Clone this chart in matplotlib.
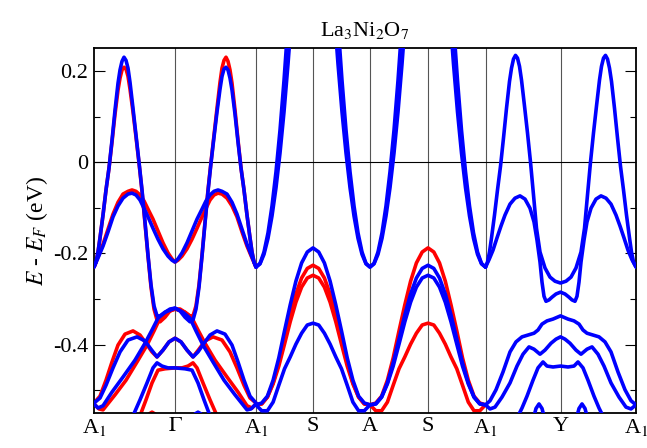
import matplotlib
matplotlib.use('Agg')
import matplotlib.pyplot as plt
from matplotlib.ticker import MultipleLocator

# high-symmetry points on the k-path
kpath_pos = [0.0, 0.81, 1.62, 2.19, 2.76, 3.34, 3.915, 4.665, 5.42]
kpath_lbl = ['A$_1$', r'$\Gamma$', 'A$_1$', 'S', 'A', 'S', 'A$_1$', 'Y', 'A$_1$']

# ---- A1 - Gamma - A1 ----
# band crossing E_F (tall dome)
dome_a_k = [0, .02, .04, .06, .09, .12, .15, .18, .21, .24, .26, .28, .30, .32, .34, .36, .39, .42, .45,
            .48, .51, .54, .57, .60, .63, .66, .71, .76, .81, .86, .91, .96, .99, 1.02, 1.05, 1.08, 1.11,
            1.14, 1.17, 1.20, 1.23, 1.26, 1.28, 1.30, 1.32, 1.34, 1.36, 1.38, 1.41, 1.44, 1.47, 1.50, 1.53,
            1.56, 1.58, 1.60, 1.62]
dome_a_blue = [-0.230, -0.219, -0.197, -0.166, -0.116, -0.061, -0.013, 0.048, 0.114, 0.173, 0.202, 0.221,
               0.230, 0.223, 0.206, 0.175, 0.118, 0.059, 0.000, -0.061, -0.131, -0.204, -0.269, -0.315,
               -0.337, -0.337, -0.329, -0.322, -0.320,
               -0.326, -0.340, -0.350, -0.346, -0.322, -0.274, -0.206, -0.134, -0.064, -0.002, 0.055, 0.110,
               0.160, 0.188, 0.204, 0.208, 0.202, 0.184, 0.158, 0.105, 0.044, -0.013, -0.061, -0.116,
               -0.166, -0.197, -0.219, -0.230]
dome_a_red = [-0.230, -0.219, -0.197, -0.166, -0.116, -0.061, -0.013, 0.044, 0.105, 0.158, 0.184, 0.202,
              0.208, 0.204, 0.188, 0.160, 0.110, 0.055, -0.002, -0.064, -0.134, -0.206, -0.274, -0.322,
              -0.346, -0.350, -0.340, -0.326, -0.322,
              -0.322, -0.329, -0.337, -0.337, -0.315, -0.269, -0.204, -0.131, -0.061, 0.000, 0.059, 0.118,
              0.175, 0.206, 0.223, 0.230, 0.221, 0.202, 0.173, 0.114, 0.048, -0.013, -0.061, -0.116,
              -0.166, -0.197, -0.219, -0.230]

# small dome below E_F
dome_b_k = [0, .04, .09, .14, .19, .24, .29, .34, .38, .42, .46, .50, .54, .59, .64, .69, .74, .78, .81,
            .84, .88, .93, .98, 1.03, 1.08, 1.12, 1.16, 1.20, 1.24, 1.28, 1.33, 1.38, 1.43, 1.48, 1.53,
            1.58, 1.62]
dome_b_blue = [-0.230, -0.210, -0.184, -0.153, -0.120, -0.096, -0.079, -0.070, -0.068, -0.072, -0.083,
               -0.101, -0.120, -0.145, -0.169, -0.190, -0.206, -0.215, -0.219,
               -0.212, -0.199, -0.177, -0.151, -0.125, -0.103, -0.085, -0.072, -0.064, -0.061, -0.064,
               -0.070, -0.088, -0.114, -0.147, -0.180, -0.208, -0.230]
dome_b_red = [-0.230, -0.208, -0.180, -0.147, -0.114, -0.088, -0.070, -0.064, -0.061, -0.064, -0.072,
              -0.085, -0.103, -0.125, -0.151, -0.177, -0.199, -0.212, -0.219,
              -0.215, -0.206, -0.190, -0.169, -0.145, -0.120, -0.101, -0.083, -0.072, -0.068, -0.070,
              -0.079, -0.096, -0.120, -0.153, -0.184, -0.210, -0.230]

# lower bands around Gamma
hump_blue_k = [0, .06, .12, .19, .26, .34, .43, .51, .57, .63, .69, .75, .81,
               .87, .93, .99, 1.04, 1.10, 1.16, 1.23, 1.31, 1.38, 1.44, 1.50, 1.56, 1.62]
hump_blue = [-0.528, -0.517, -0.489, -0.451, -0.416, -0.390, -0.383, -0.392, -0.410, -0.427, -0.412,
             -0.394, -0.386, -0.394, -0.412, -0.427, -0.416, -0.397, -0.379, -0.370, -0.377, -0.401,
             -0.438, -0.478, -0.513, -0.528]
hump_red_k = [0, .06, .12, .18, .24, .31, .39, .46, .52, .58, .63, .69, .75, .81,
              .87, .93, .99, 1.05, 1.11, 1.19, 1.28, 1.36, 1.43, 1.50, 1.56, 1.62]
hump_red = [-0.528, -0.513, -0.478, -0.438, -0.401, -0.377, -0.370, -0.379, -0.397, -0.416, -0.427,
            -0.412, -0.394, -0.386, -0.394, -0.412, -0.427, -0.410, -0.392, -0.383, -0.390, -0.416,
            -0.451, -0.489, -0.517, -0.528]

lam_blue_k = [0, .04, .09, .18, .29, .41, .51, .58, .64, .71, .81, .89, .96, 1.02, 1.09, 1.19, 1.30,
              1.41, 1.53, 1.57, 1.62]
lam_blue = [-0.530, -0.539, -0.534, -0.504, -0.471, -0.434, -0.397, -0.368, -0.342, -0.329, -0.320,
            -0.329, -0.342, -0.370, -0.401, -0.438, -0.478, -0.510, -0.543, -0.541, -0.530]
lam_red_k = [0, .05, .09, .21, .32, .43, .53, .60, .66, .73, .81, .91, .98, 1.04, 1.11, 1.21, 1.33,
             1.44, 1.53, 1.58, 1.62]
lam_red = [-0.530, -0.541, -0.543, -0.510, -0.478, -0.438, -0.401, -0.370, -0.342, -0.329, -0.322,
           -0.329, -0.342, -0.368, -0.397, -0.434, -0.471, -0.504, -0.534, -0.539, -0.530]

flat_blue_k = [.39, .46, .53, .59, .63, .68, .74, .81, .91, .98, 1.04, 1.10, 1.16]
flat_blue = [-0.556, -0.521, -0.484, -0.451, -0.440, -0.447, -0.451, -0.451, -0.453, -0.456, -0.484,
             -0.521, -0.556]
flat_red_k = [.46, .52, .58, .64, .71, .81, .88, .94, .99, 1.03, 1.09, 1.16, 1.23]
flat_red = [-0.556, -0.521, -0.484, -0.456, -0.453, -0.451, -0.451, -0.447, -0.440, -0.451, -0.484,
            -0.521, -0.556]

tip_red_k = [.52, .55, .58, .61, .64]
tip_blue_k = [.98, 1.01, 1.04, 1.07, 1.10]
tip_e = [-0.565, -0.552, -0.548, -0.552, -0.565]

# ---- steep bands (A1 - S - A - S - A1) ----
u1_in_k = [1.62, 1.66, 1.70, 1.74, 1.78, 1.82, 1.86, 1.90, 1.94]
u1_in = [-0.230, -0.222, -0.197, -0.155, -0.096, -0.021, 0.070, 0.179, 0.304]
u1_out_k = [1.62, 1.66, 1.70, 1.74, 1.78, 1.82, 1.86, 1.90, 1.94, 1.98]
u1_out = [-0.230, -0.223, -0.202, -0.167, -0.118, -0.056, 0.020, 0.110, 0.215, 0.333]
u2_in_k = [2.44, 2.48, 2.52, 2.56, 2.60, 2.64, 2.68, 2.72, 2.76, 2.80, 2.84, 2.88, 2.92, 2.96, 3.00,
           3.04, 3.08]
u2_in = [0.304, 0.179, 0.070, -0.021, -0.096, -0.155, -0.197, -0.222, -0.230, -0.222, -0.197, -0.155,
         -0.096, -0.021, 0.070, 0.179, 0.304]
u2_out_k = [2.40, 2.44, 2.48, 2.52, 2.56, 2.60, 2.64, 2.68, 2.72, 2.76, 2.80, 2.84, 2.88, 2.92, 2.96,
            3.00, 3.04, 3.08, 3.12]
u2_out = [0.333, 0.215, 0.110, 0.020, -0.056, -0.118, -0.167, -0.202, -0.223, -0.230, -0.223, -0.202,
          -0.167, -0.118, -0.056, 0.020, 0.110, 0.215, 0.333]
u3_in_k = [3.595, 3.635, 3.675, 3.715, 3.755, 3.795, 3.835, 3.875, 3.915]
u3_in = [0.304, 0.179, 0.070, -0.021, -0.096, -0.155, -0.197, -0.222, -0.230]
u3_out_k = [3.555, 3.595, 3.635, 3.675, 3.715, 3.755, 3.795, 3.835, 3.875, 3.915]
u3_out = [0.333, 0.215, 0.110, 0.020, -0.056, -0.118, -0.167, -0.202, -0.223, -0.230]

# bands with maxima at S
s_k = [1.62, 1.677, 1.734, 1.791, 1.848, 1.905, 1.962, 2.019, 2.076, 2.133, 2.19, 2.247, 2.304, 2.361,
       2.418, 2.475, 2.532, 2.589, 2.646, 2.703, 2.76, 2.818, 2.876, 2.934, 2.992, 3.05, 3.108, 3.166,
       3.224, 3.282, 3.34, 3.398, 3.455, 3.513, 3.57, 3.628, 3.685, 3.743, 3.80, 3.858, 3.915]
s_blue1 = [-0.532, -0.528, -0.513, -0.478, -0.429, -0.370, -0.313, -0.261, -0.221, -0.197, -0.188,
           -0.197, -0.221, -0.261, -0.313, -0.370, -0.429, -0.478, -0.513, -0.528, -0.532,
           -0.530, -0.515, -0.484, -0.440, -0.388, -0.335, -0.289, -0.254, -0.233, -0.226,
           -0.233, -0.254, -0.289, -0.335, -0.388, -0.440, -0.484, -0.515, -0.530, -0.532]
s_blue2 = [-0.532, -0.545, -0.545, -0.526, -0.489, -0.453, -0.427, -0.399, -0.375, -0.357, -0.353,
           -0.357, -0.375, -0.399, -0.427, -0.453, -0.489, -0.526, -0.545, -0.545, -0.532,
           -0.530, -0.515, -0.486, -0.447, -0.399, -0.350, -0.307, -0.274, -0.254, -0.248,
           -0.254, -0.274, -0.307, -0.350, -0.399, -0.447, -0.486, -0.515, -0.530, -0.532]
s_red1 = [-0.532, -0.530, -0.515, -0.484, -0.440, -0.388, -0.335, -0.289, -0.254, -0.233, -0.226,
          -0.233, -0.254, -0.289, -0.335, -0.388, -0.440, -0.484, -0.515, -0.530, -0.532,
          -0.528, -0.513, -0.478, -0.429, -0.370, -0.313, -0.261, -0.221, -0.197, -0.188,
          -0.197, -0.221, -0.261, -0.313, -0.370, -0.429, -0.478, -0.513, -0.528, -0.532]
s_red2 = [-0.532, -0.530, -0.515, -0.486, -0.447, -0.399, -0.350, -0.307, -0.274, -0.254, -0.248,
          -0.254, -0.274, -0.307, -0.350, -0.399, -0.447, -0.486, -0.515, -0.530, -0.532,
          -0.545, -0.545, -0.526, -0.489, -0.453, -0.427, -0.399, -0.375, -0.357, -0.353,
          -0.357, -0.375, -0.399, -0.427, -0.453, -0.489, -0.526, -0.545, -0.545, -0.532]

# ---- A1 - Y - A1 ----
y_tall_k = [3.915, 3.935, 3.955, 3.975, 4.005, 4.035, 4.065, 4.095, 4.125, 4.155, 4.175, 4.195, 4.215,
            4.235, 4.255, 4.275, 4.305, 4.335, 4.365, 4.395, 4.425, 4.46, 4.51, 4.56, 4.61, 4.665,
            4.72, 4.77, 4.82, 4.87, 4.905, 4.935, 4.965, 4.995, 5.025, 5.055, 5.075, 5.095, 5.115,
            5.135, 5.155, 5.175, 5.205, 5.235, 5.265, 5.295, 5.325, 5.355, 5.375, 5.395, 5.42]
y_tall = [-0.230, -0.219, -0.197, -0.166, -0.116, -0.061, -0.009, 0.053, 0.118, 0.177, 0.206, 0.226,
          0.234, 0.228, 0.210, 0.180, 0.123, 0.064, 0.000, -0.072, -0.145, -0.197, -0.232, -0.252,
          -0.261, -0.265,
          -0.261, -0.252, -0.232, -0.197, -0.145, -0.072, 0.000, 0.064, 0.123, 0.180, 0.210, 0.228,
          0.234, 0.226, 0.206, 0.177, 0.118, 0.053, -0.009, -0.061, -0.116, -0.166, -0.197, -0.219,
          -0.230]
y_small_k = [3.915, 3.95, 3.99, 4.03, 4.07, 4.11, 4.16, 4.21, 4.26, 4.31, 4.36, 4.40, 4.43, 4.46, 4.48,
             4.50, 4.52, 4.55, 4.58, 4.62, 4.665, 4.71, 4.75, 4.78, 4.81, 4.83, 4.85, 4.87, 4.90,
             4.93, 4.97, 5.02, 5.07, 5.12, 5.17, 5.22, 5.26, 5.30, 5.34, 5.38, 5.42]
y_small = [-0.230, -0.214, -0.193, -0.166, -0.140, -0.116, -0.092, -0.079, -0.074, -0.081, -0.101,
           -0.131, -0.171, -0.219, -0.263, -0.294, -0.305, -0.302, -0.296, -0.289, -0.285,
           -0.289, -0.296, -0.302, -0.305, -0.294, -0.263, -0.219, -0.171, -0.131, -0.101, -0.081,
           -0.074, -0.079, -0.092, -0.116, -0.140, -0.166, -0.193, -0.214, -0.230]
y_l1_k = [3.915, 3.96, 4.02, 4.09, 4.16, 4.22, 4.28, 4.34, 4.40, 4.44, 4.48, 4.53, 4.59, 4.665,
          4.74, 4.80, 4.85, 4.89, 4.93, 4.99, 5.05, 5.11, 5.17, 5.24, 5.31, 5.37, 5.42]
y_l1 = [-0.532, -0.523, -0.499, -0.460, -0.416, -0.394, -0.383, -0.379, -0.375, -0.368, -0.355, -0.348,
        -0.344, -0.337, -0.344, -0.348, -0.355, -0.368, -0.375, -0.379, -0.383, -0.394, -0.416, -0.460,
        -0.499, -0.523, -0.532]
y_l2_k = [3.915, 3.96, 4.01, 4.08, 4.16, 4.23, 4.29, 4.35, 4.40, 4.46, 4.51, 4.57, 4.62, 4.665,
          4.71, 4.76, 4.82, 4.87, 4.93, 4.98, 5.04, 5.10, 5.17, 5.25, 5.32, 5.37, 5.42]
y_l2 = [-0.532, -0.541, -0.537, -0.515, -0.484, -0.447, -0.421, -0.405, -0.410, -0.421, -0.412, -0.397,
        -0.388, -0.383, -0.388, -0.397, -0.412, -0.421, -0.410, -0.405, -0.421, -0.447, -0.484, -0.515,
        -0.537, -0.541, -0.532]
y_l3_k = [4.23, 4.28, 4.33, 4.39, 4.44, 4.49, 4.53, 4.59, 4.665, 4.74, 4.80, 4.84, 4.89, 4.94, 5.00,
          5.05, 5.10]
y_l3 = [-0.561, -0.539, -0.513, -0.478, -0.451, -0.438, -0.447, -0.449, -0.447, -0.449, -0.447, -0.438,
        -0.451, -0.478, -0.513, -0.539, -0.561]
y_tip1_k = [4.39, 4.42, 4.45, 4.48, 4.51]
y_tip2_k = [4.82, 4.85, 4.88, 4.91, 4.94]
y_tip_e = [-0.565, -0.540, -0.530, -0.540, -0.565]

red_bands = [(dome_a_k, dome_a_red), (dome_b_k, dome_b_red), (hump_red_k, hump_red),
             (lam_red_k, lam_red), (flat_red_k, flat_red), (tip_red_k, tip_e),
             (s_k, s_red1), (s_k, s_red2)]
blue_bands = [(dome_a_k, dome_a_blue), (dome_b_k, dome_b_blue), (hump_blue_k, hump_blue),
              (lam_blue_k, lam_blue), (flat_blue_k, flat_blue), (tip_blue_k, tip_e),
              (u1_in_k, u1_in), (u1_out_k, u1_out), (u2_in_k, u2_in), (u2_out_k, u2_out),
              (u3_in_k, u3_in), (u3_out_k, u3_out), (s_k, s_blue1), (s_k, s_blue2),
              (y_tall_k, y_tall), (y_small_k, y_small), (y_l1_k, y_l1), (y_l2_k, y_l2),
              (y_l3_k, y_l3), (y_tip1_k, y_tip_e), (y_tip2_k, y_tip_e)]

plt.rcParams['font.family'] = ['Liberation Serif', 'DejaVu Serif']
plt.rcParams['mathtext.fontset'] = 'stix'

fig = plt.figure(figsize=(6.47, 4.48), dpi=100)
ax = fig.add_axes([0.1453, 0.078, 0.8377, 0.8147])

for xk in kpath_pos[1:-1]:
    ax.axvline(xk, color='#555555', lw=0.8, zorder=1)
ax.axhline(0, color='black', lw=0.8, zorder=1)

for k, e in red_bands:
    ax.plot(k, e, color='#ff0000', lw=2.6, solid_capstyle='round', solid_joinstyle='round', zorder=2)
for k, e in blue_bands:
    ax.plot(k, e, color='#0000ff', lw=2.6, solid_capstyle='round', solid_joinstyle='round', zorder=3)

ax.set_xlim(kpath_pos[0], kpath_pos[-1])
ax.set_ylim(-0.55, 0.25)
ax.set_xticks(kpath_pos)
ax.set_xticklabels(kpath_lbl, fontsize=16)
ax.tick_params(axis='x', length=0, pad=3)
ax.set_yticks([-0.4, -0.2, 0, 0.2])
ax.set_yticklabels(['-0.4', '-0.2', '0', '0.2'], fontsize=16)
ax.yaxis.set_minor_locator(MultipleLocator(0.1))
ax.tick_params(axis='y', which='major', direction='in', length=8, width=0.8, right=True, pad=4)
ax.tick_params(axis='y', which='minor', direction='in', length=4, width=0.8, right=True)
for sp in ax.spines.values():
    sp.set_linewidth(1.3)

ax.set_ylabel('$E$ - $E_F$ (eV)', fontsize=17, labelpad=2)
ax.set_title('La$_3$Ni$_2$O$_7$', fontsize=16, pad=9)

fig.savefig('out.png', dpi=100)
